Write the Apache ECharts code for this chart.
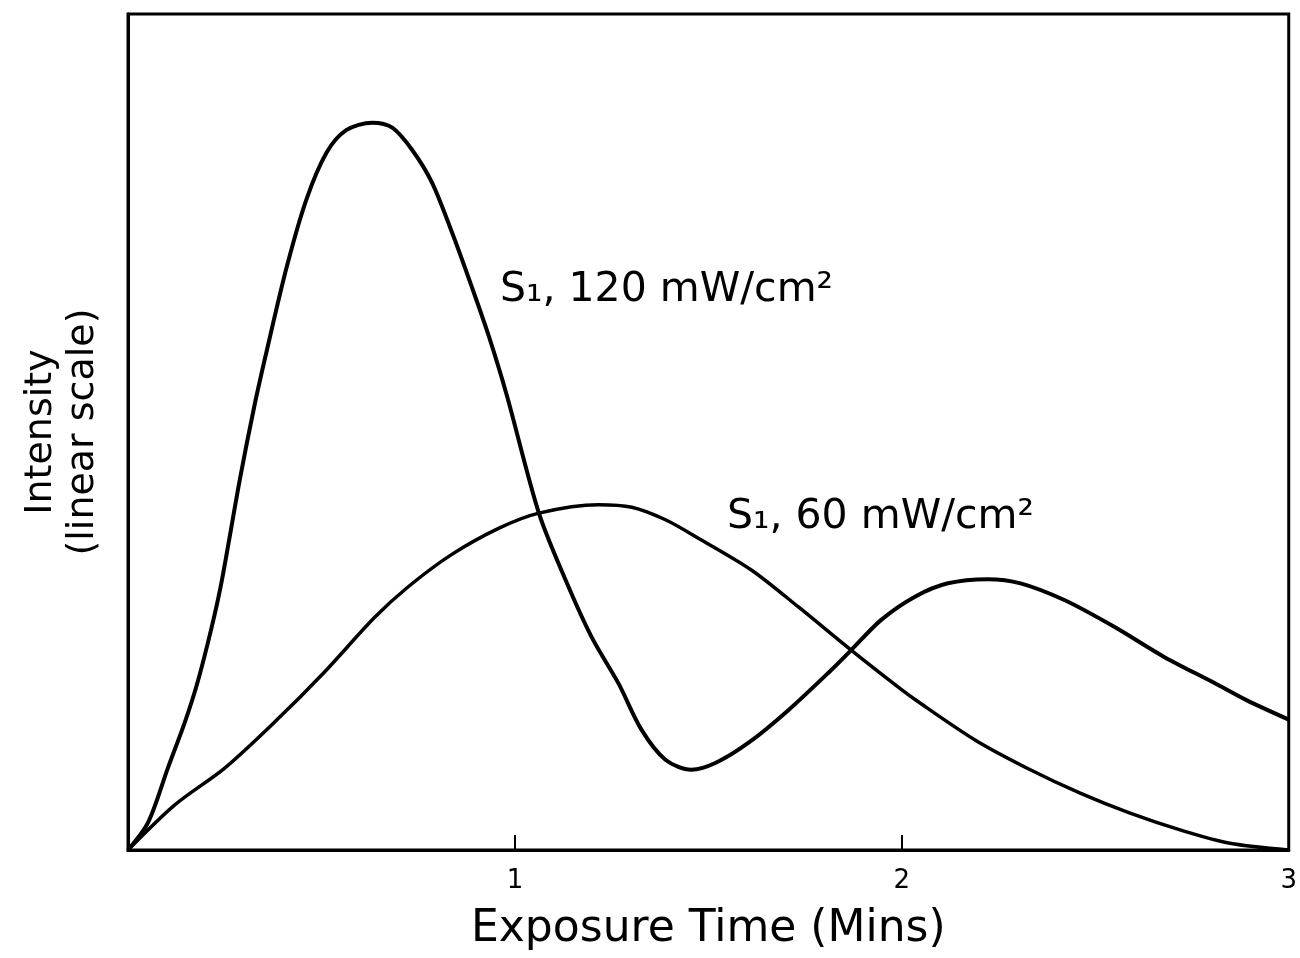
<!DOCTYPE html>
<html>
<head>
<meta charset="utf-8">
<script src="https://cdn.jsdelivr.net/npm/echarts@6/dist/echarts.min.js"></script>
<style>
    html, body { margin: 0; padding: 0; background: #ffffff; }
    #chart { width: 1300px; height: 958px; }
</style>
</head>
<body>
<div id="chart"></div>
<script>
// exposure time (mins) / intensity (arbitrary, 0-100)
var highX = [0, 0.052, 0.103, 0.147, 0.18, 0.216, 0.242, 0.289, 0.327, 0.358, 0.41, 0.461, 0.513, 0.564, 0.631, 0.683, 0.735, 0.786, 0.838, 0.889, 0.933, 0.979, 1.062, 1.131, 1.198, 1.268, 1.327, 1.389, 1.456, 1.518, 1.603, 1.706, 1.817, 1.869, 1.946, 2.034, 2.119, 2.222, 2.307, 2.42, 2.549, 2.678, 2.807, 2.892, 3];
var highY = [0, 3.3, 9.8, 15.3, 20.1, 26.6, 32.1, 44.3, 53.2, 59.6, 69.7, 77.8, 83.4, 86.1, 87.0, 86.4, 83.7, 79.8, 73.8, 67.3, 61.4, 54.4, 40.3, 32.3, 25.5, 19.9, 14.4, 10.8, 9.6, 10.4, 12.8, 16.7, 21.5, 23.9, 27.5, 30.3, 31.9, 32.4, 31.9, 29.9, 26.7, 23.1, 20.0, 17.9, 15.6];

var lowX = [0, 0.121, 0.25, 0.379, 0.508, 0.637, 0.722, 0.835, 0.959, 1.062, 1.216, 1.302, 1.389, 1.474, 1.611, 1.732, 1.869, 1.99, 2.034, 2.188, 2.332, 2.461, 2.59, 2.719, 2.848, 3];
var lowY = [0, 5.4, 9.8, 15.3, 21.3, 27.8, 31.4, 35.3, 38.5, 40.3, 41.3, 41.0, 39.5, 37.3, 33.5, 29.1, 23.9, 19.5, 18.0, 13.2, 9.6, 6.8, 4.4, 2.4, 0.8, 0];

var xTicks = [1, 2, 3];

function pairs(xs, ys) {
    var out = [];
    for (var i = 0; i < xs.length; i++) {
        out.push([xs[i], ys[i]]);
    }
    return out;
}

var font = 'DejaVu Sans';
var chart = echarts.init(document.getElementById('chart'));
chart.setOption({
    backgroundColor: '#ffffff',
    animation: false,
    grid: {
        left: 128,
        right: 8,
        top: 14,
        bottom: 108,
        show: true,
        borderColor: '#000',
        borderWidth: 3
    },
    xAxis: {
        type: 'value',
        min: 0,
        max: 3,
        interval: 1,
        name: 'Exposure Time (Mins)',
        nameLocation: 'middle',
        nameGap: 58,
        nameTextStyle: { color: '#000', fontSize: 44, fontFamily: font },
        splitLine: { show: false },
        axisLine: { lineStyle: { color: '#000', width: 3 } },
        axisTick: { inside: true, length: 15, lineStyle: { color: '#000', width: 2 } },
        axisLabel: {
            margin: 18,
            color: '#000',
            fontSize: 26,
            fontFamily: font,
            formatter: function (v) {
                return xTicks.indexOf(v) >= 0 ? String(v) : '';
            }
        }
    },
    yAxis: {
        type: 'value',
        min: 0,
        max: 100,
        name: 'Intensity\n(linear scale)',
        nameLocation: 'middle',
        nameRotate: 90,
        nameGap: 24,
        nameTextStyle: { color: '#000', fontSize: 38, fontFamily: font, lineHeight: 42 },
        splitLine: { show: false },
        axisLine: { lineStyle: { color: '#000', width: 3 } },
        axisTick: { show: false },
        axisLabel: { show: false }
    },
    series: [{
        name: '120',
        type: 'line',
        smooth: 0.3,
        symbol: 'none',
        lineStyle: { color: '#000', width: 4 },
        data: pairs(highX, highY)
    }, {
        name: '60',
        type: 'line',
        smooth: 0.3,
        symbol: 'none',
        lineStyle: { color: '#000', width: 3.5 },
        data: pairs(lowX, lowY)
    }],
    graphic: [{
        type: 'text',
        left: 500,
        top: 270,
        style: { text: 'S\u2081, 120 mW/cm\u00b2', fill: '#000', fontSize: 41, fontFamily: font }
    }, {
        type: 'text',
        left: 727,
        top: 497,
        style: { text: 'S\u2081, 60 mW/cm\u00b2', fill: '#000', fontSize: 41, fontFamily: font }
    }]
});
</script>
</body>
</html>
